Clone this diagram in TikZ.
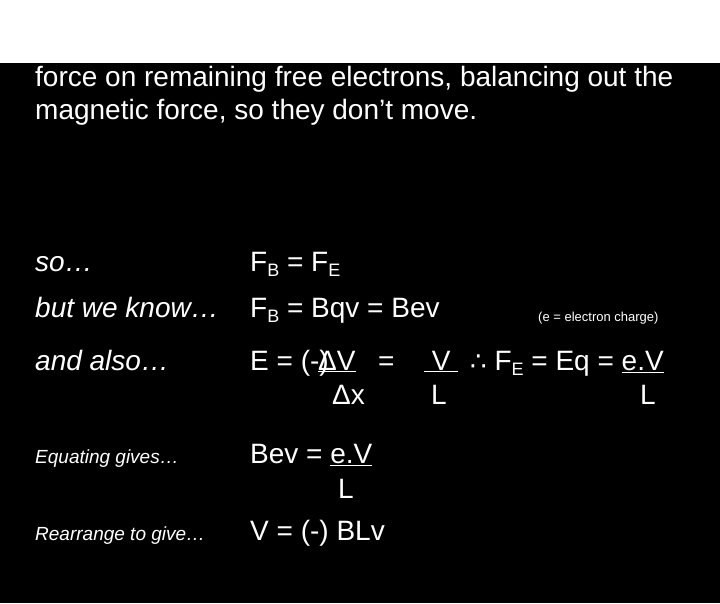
\documentclass[tikz,border=0pt]{standalone}
\usepackage{fontspec}
\setmainfont{Liberation Sans}
\newfontfamily\djvfont{DejaVu Sans}
\newcommand{\sbx}[1]{\raisebox{-0.35ex}{\fontsize{18}{18}\selectfont #1}}
\begin{document}
\begin{tikzpicture}[x=1pt,y=-1pt,
  t/.style={text=white,anchor=base west,inner sep=0pt,font=\fontsize{28}{33}\selectfont},
  it/.style={t,font=\fontsize{28}{33}\selectfont\itshape},
  si/.style={t,font=\fontsize{19}{22}\selectfont\itshape}]
\fill[black] (0,0) rectangle (720,540);
\node[t,align=left] (p) at (35,56) {The charges in turn create a p.d. across the wire\\and thus an electric field. The field will exert electric\\force on remaining free electrons, balancing out the\\magnetic force, so they don’t move.};
\node[it] (l1) at (35,208) {so…};
\node[t] (r1) at (250,208) {F\sbx{B} = F\sbx{E}};
\node[it] (l2) at (35,254) {but we know…};
\node[t] (r2) at (250,254) {F\sbx{B} = Bqv = Bev};
\node[t,font=\fontsize{13}{14}\selectfont] (n2) at (538,258) {(e = electron charge)};
\node[it] (l3) at (35,307) {and also…};
\node[t] (r3) at (250,307) {E = (-)};
\node[t] (r3a) at (318,307) {\underline{ΔV}};
\node[t] (r3f) at (378,307) {=};
\node[t] (r3g) at (424,307) {\underline{ V }};
\node[t] (r3b) at (332,341) {Δx};
\node[t] (r3c) at (431,341) {L};
\node[t] (r3d) at (470,307) {{\djvfont\fontsize{26}{26}\selectfont ∴} F\sbx{E} = Eq = \underline{e.V}};
\node[t] (r3e) at (640,341) {L};
\node[si] (l4) at (35,400) {Equating gives…};
\node[t] (r4) at (250,400) {Bev = \underline{e.V}};
\node[t] (r4b) at (338,435) {L};
\node[si] (l5) at (35,477) {Rearrange to give…};
\node[t] (r5) at (250,477) {V = (-) BLv};
\end{tikzpicture}
\end{document}
